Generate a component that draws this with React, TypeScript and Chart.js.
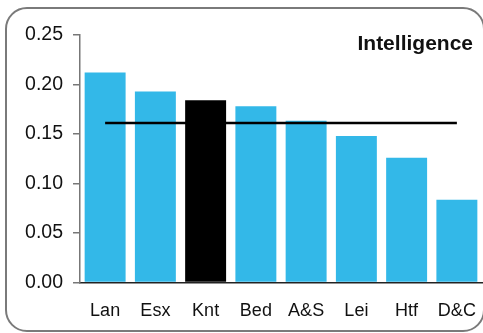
import React, { useEffect, useRef } from "react";
import { Chart, registerables } from "chart.js";

Chart.register(...registerables);

const categories = ["Lan", "Esx", "Knt", "Bed", "A&S", "Lei", "Htf", "D&C"];
const values = [0.212, 0.193, 0.184, 0.178, 0.1635, 0.148, 0.126, 0.0835];
const averageLine = [0.161, 0.161, 0.161, 0.161, 0.161, 0.161, 0.161, 0.161];
const highlighted = "Knt";
const yTicks = [0, 0.05, 0.1, 0.15, 0.2, 0.25];
const chartTitle = "Intelligence";

const FONT = "'Liberation Sans', Arial, Helvetica, sans-serif";

const titlePlugin = {
  id: "innerTitle",
  afterDraw(chart: any) {
    const ctx = chart.ctx;
    ctx.save();
    ctx.font = `bold 21px ${FONT}`;
    ctx.fillStyle = "#111";
    ctx.textAlign = "right";
    ctx.textBaseline = "alphabetic";
    ctx.fillText(chartTitle, chart.chartArea.right - 9, chart.chartArea.top + 15);
    ctx.restore();
  },
};

export default function App() {
  const ref = useRef<HTMLCanvasElement | null>(null);

  useEffect(() => {
    if (!ref.current) return;
    const chart = new Chart(ref.current, {
      type: "bar",
      data: {
        labels: categories,
        datasets: [
          {
            type: "line",
            data: averageLine,
            borderColor: "#000",
            borderWidth: 2.5,
            pointRadius: 0,
            fill: false,
            order: 0,
          } as any,
          {
            type: "bar",
            data: values,
            backgroundColor: categories.map((c) => (c === highlighted ? "#000000" : "#33B8E8")),
            borderWidth: 0,
            barPercentage: 0.815,
            categoryPercentage: 1,
            order: 1,
          },
        ],
      },
      options: {
        animation: false,
        responsive: false,
        maintainAspectRatio: false,
        devicePixelRatio: 1,
        layout: { padding: { left: 0, top: 35, right: 1, bottom: 0 } },
        plugins: {
          legend: { display: false },
          title: { display: false },
          tooltip: { enabled: false },
        },
        scales: {
          x: {
            grid: { display: false, drawTicks: false },
            border: { display: true, color: "#222", width: 1.5 },
            ticks: {
              color: "#111",
              padding: 18,
              font: { family: FONT, size: 18 },
              maxRotation: 0,
              autoSkip: false,
            },
            afterFit(scale: any) {
              scale.height = 50.5;
              scale.paddingLeft = 0;
              scale.paddingRight = 0;
            },
          },
          y: {
            min: 0,
            max: 0.25,
            afterBuildTicks(scale: any) {
              scale.ticks = yTicks.map((v) => ({ value: v }));
            },
            grid: {
              drawOnChartArea: false,
              drawTicks: true,
              tickLength: 7,
              color: "#777",
              lineWidth: 1.5,
            },
            border: { display: true, color: "#777", width: 1.5 },
            ticks: {
              color: "#111",
              padding: 10,
              font: { family: FONT, size: 19.5 },
              callback: (v: any) => Number(v).toFixed(2),
            },
            afterFit(scale: any) {
              scale.width = 80;
              scale.paddingTop = 0;
              scale.paddingBottom = 0;
            },
          },
        },
      },
      plugins: [titlePlugin],
    });
    return () => chart.destroy();
  }, []);

  return (
    <div style={{ position: "absolute", left: 0, top: 0, width: 483, height: 333, background: "#fff" }}>
      <div
        style={{
          position: "absolute",
          left: 5,
          top: 7,
          width: 480,
          height: 325,
          boxSizing: "border-box",
          border: "2px solid #7a7a7a",
          borderRadius: 22,
        }}
      />
      <canvas
        ref={ref}
        width={483}
        height={333}
        style={{ position: "absolute", left: 0, top: 0, width: 483, height: 333 }}
      />
    </div>
  );
}
